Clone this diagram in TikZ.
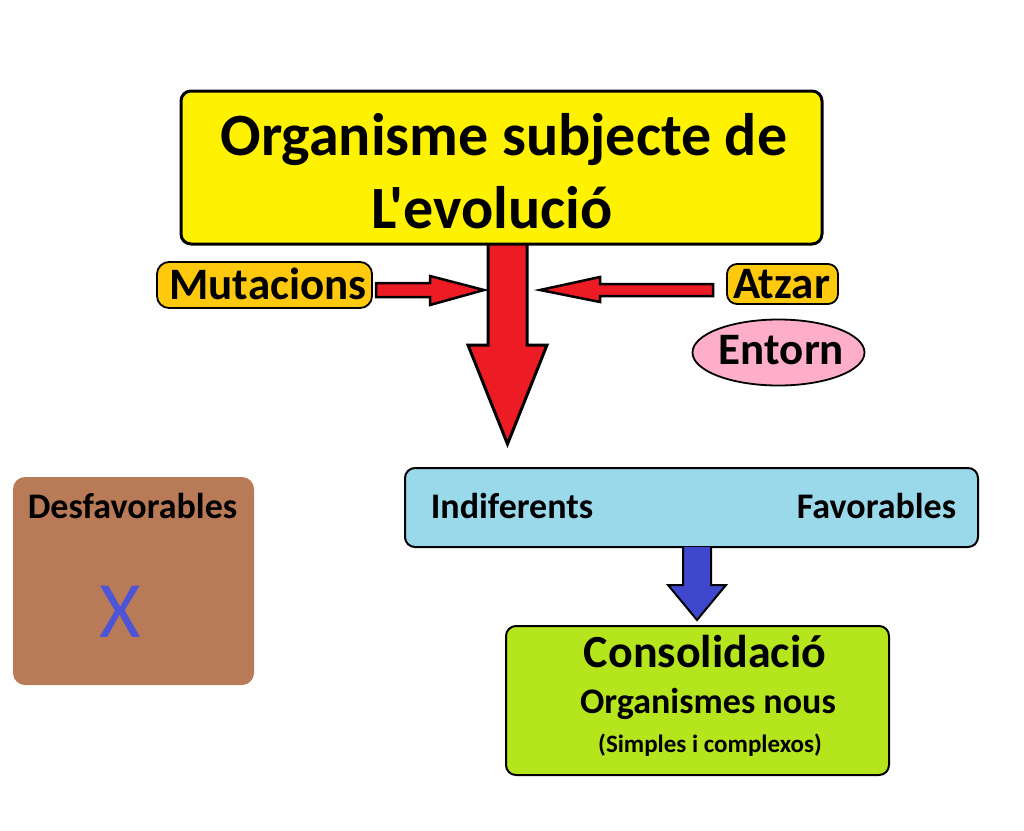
\documentclass[tikz,border=0pt]{standalone}
\usepackage{fontspec}
\setmainfont{Carlito}[Ligatures=TeXOff]
\usetikzlibrary{shapes.geometric}
\definecolor{pyellow}{HTML}{FFF200}
\definecolor{pred}{HTML}{ED1C24}
\definecolor{pgold}{HTML}{FFC90E}
\definecolor{ppink}{HTML}{FFAEC9}
\definecolor{pbrown}{HTML}{B97A57}
\definecolor{pturq}{HTML}{99D9EA}
\definecolor{pindigo}{HTML}{3F48CC}
\definecolor{plime}{HTML}{B5E61D}
\definecolor{xblue}{HTML}{4B55D6}
\tikzset{
  boxshape/.style={draw=black, rounded corners=10pt, line width=2pt},
  txt/.style={font=\bfseries, text=black, inner sep=0pt, anchor=base},
  arr/.style={draw=black, line width=2.5pt, line join=miter},
}
\begin{document}
\begin{tikzpicture}[x=1pt,y=-1pt]
\useasboundingbox[fill=white] (0,0) rectangle (1024,830);
% big red arrow
\coordinate (rtop) at (507.5,244);
\coordinate (rtip) at (507.5,444);
\draw[arr, fill=pred, line width=3pt] (488,244) -- (488,345) -- (468,345) -- (rtip) -- (547,345) -- (527,345) -- (527,244);
% title box
\draw[boxshape, fill=pyellow, line width=3pt] (181,91) rectangle (822,244);
\node[txt, font=\bfseries\fontsize{60}{60}\selectfont] (t1) at (504,155) {Organisme subjecte de};
\node[txt, font=\bfseries\fontsize{60}{60}\selectfont] (t2) at (492,228) {L'evolució};
% Mutacions
\node[draw=black, line width=1.8pt, fill=pgold, rounded corners=12pt, minimum width=215pt, minimum height=46pt, inner sep=0pt] (mut) at (264.5,285) {};
\node[txt, font=\bfseries\fontsize{45}{45}\selectfont] at (268,299) {Mutacions};
\coordinate (mtip) at (484,290);
\draw[arr, fill=pred] (376,283) -- (430,283) -- (430,276) -- (mtip) -- (430,305) -- (430,297) -- (376,297) -- cycle;
% Atzar
\node[draw=black, line width=1.8pt, fill=pgold, rounded corners=10pt, minimum width=111pt, minimum height=40pt, inner sep=0pt] (atz) at (782.5,284) {};
\node[txt, font=\bfseries\fontsize{45}{45}\selectfont] at (781.5,298) {Atzar};
\coordinate (atip) at (540,290);
\draw[arr, fill=pred] (713,284) -- (600,284) -- (600,277) -- (atip) -- (600,302) -- (600,296) -- (713,296) -- cycle;
% Entorn
\node[ellipse, draw=black, line width=1.8pt, fill=ppink, minimum width=172pt, minimum height=66pt, inner sep=0pt] (ent) at (778.5,352.5) {};
\node[txt, font=\bfseries\fontsize{45}{45}\selectfont] at (781.5,364) {Entorn};
% Desfavorables
\fill[pbrown, rounded corners=12pt] (13,477) rectangle (254,685);
\node[txt, font=\bfseries\fontsize{36}{36}\selectfont] (desf) at (132.5,518) {Desfavorables};
\node[txt, font=\fontsize{80}{80}\selectfont, text=xblue] (x) at (120,637) {X};
% Indiferents / Favorables
\draw[boxshape, fill=pturq] (405,468) rectangle (978,547);
\node[txt, font=\bfseries\fontsize{36}{36}\selectfont] (ind) at (512,518) {Indiferents};
\node[txt, font=\bfseries\fontsize{36}{36}\selectfont] (fav) at (876.5,518) {Favorables};
% blue arrow
\coordinate (btip) at (697,620);
\draw[arr, fill=pindigo, line width=2pt] (683,547) -- (683,585) -- (668,585) -- (btip) -- (726,585) -- (711,585) -- (711,547);
% Consolidacio
\draw[boxshape, fill=plime] (506,626) rectangle (889,775);
\node[txt, font=\bfseries\fontsize{46}{46}\selectfont] (cons) at (705,667) {Consolidació};
\node[txt, font=\bfseries\fontsize{36}{36}\selectfont] (org) at (708,713) {Organismes nous};
\node[txt, font=\bfseries\fontsize{25}{25}\selectfont] (simp) at (710,752) {(Simples i complexos)};
\end{tikzpicture}
\end{document}
